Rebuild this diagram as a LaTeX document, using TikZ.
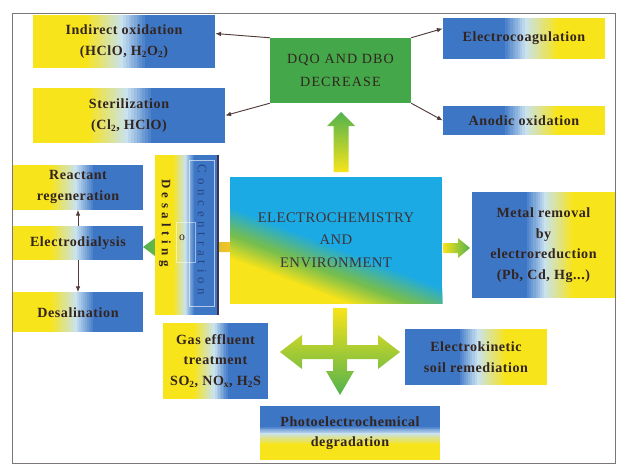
\documentclass[tikz,border=0pt]{standalone}
\usepackage{fontspec}
\setmainfont{Liberation Serif}
\usepackage{tikz}
\usetikzlibrary{positioning,arrows.meta,shadings,calc}

\definecolor{gyel}{RGB}{248,228,26}
\definecolor{glight}{RGB}{200,226,240}
\definecolor{gblu}{RGB}{62,118,198}
\definecolor{ecyan}{RGB}{28,170,228}
\definecolor{egreen}{RGB}{118,190,78}
\definecolor{dqogreen}{RGB}{68,168,74}
\definecolor{arrgreen}{RGB}{82,178,78}
\definecolor{arrorange}{RGB}{245,196,40}
\definecolor{txtdark}{RGB}{50,36,30}
\definecolor{envtxt}{RGB}{62,52,55}
\definecolor{linkcol}{RGB}{80,60,58}
\definecolor{framecol}{RGB}{125,118,120}
\definecolor{concblue}{RGB}{40,70,130}
\definecolor{edgedark}{RGB}{60,50,80}

\newcommand{\pxu}{0.03cm}

\begin{document}
\begin{tikzpicture}[
		x=0.03cm, y=-0.03cm,
		>={Latex[length=5pt,width=4pt]},
		every text node part/.style={align=center},
		box/.style={inner sep=0, text=txtdark,
			font=\fontsize{12}{17.5}\selectfont\bfseries\addfontfeature{LetterSpace=4}},
		gradbox/.style n args={4}{box, fill=gyel, path picture={
				\coordinate (ys) at (path picture bounding box.#1);
				\coordinate (bs) at (path picture bounding box.#2);
				\coordinate (yt) at (path picture bounding box.#3);
				\coordinate (bt) at (path picture bounding box.#4);
				\fill[gblu] ($(ys)!0.62!(bs)$) rectangle (bt);
				\foreach \k in {0,...,9} {
					\pgfmathtruncatemacro\mixp{\k*100/10}
					\fill[glight!\mixp!gyel] ($(ys)!0.28+0.02*\k!(bs)$) rectangle ($(yt)!0.302+0.02*\k!(bt)$);
				}
				\foreach \k in {0,...,9} {
					\pgfmathtruncatemacro\mixp{\k*100/9}
					\fill[gblu!\mixp!glight] ($(ys)!0.48+0.015*\k!(bs)$) rectangle ($(yt)!0.496+0.015*\k!(bt)$);
				}
		}},
		ytob/.style={gradbox={south west}{south east}{north west}{north east}},
		btoy/.style={gradbox={south east}{south west}{north east}{north west}},
		ytobv/.style={gradbox={south west}{north west}{south east}{north east}},
		envbox/.style={box, fill=ecyan, text=envtxt, path picture={
				\coordinate (pc) at (path picture bounding box.center);
				\foreach \t in {6,8,...,30} {
					\pgfmathtruncatemacro\mixp{(\t-6)*4}
					\fill[egreen!\mixp!ecyan] ($(pc)+\t*(-0.358,0.934)+(280,107)$) -- ($(pc)+\t*(-0.358,0.934)-(280,107)$) -- ++(-107,280) -- ++(560,214) -- cycle;
				}
				\foreach \t in {32,34,...,54} {
					\pgfmathtruncatemacro\mixp{(\t-32)*100/22}
					\fill[gyel!\mixp!egreen] ($(pc)+\t*(-0.358,0.934)+(280,107)$) -- ($(pc)+\t*(-0.358,0.934)-(280,107)$) -- ++(-107,280) -- ++(560,214) -- cycle;
				}
		}},
		link/.style={->, draw=linkcol, line width=0.8pt},
		vlabel/.style={rotate=-90, inner sep=0}
	]
	\useasboundingbox (0,0) rectangle (617,472);
	\draw[framecol, line width=0.8pt] (12,13) rectangle (615,463);
	
	\node(indir)[ytob, minimum width=182*\pxu, minimum height=53*\pxu] at (124,41.5) {Indirect oxidation\\(HClO, H\textsubscript{2}O\textsubscript{2})};
	\node(steril)[ytob, minimum width=192*\pxu, minimum height=55*\pxu] at (129,115.5) {Sterilization\\(Cl\textsubscript{2}, HClO)};
	\node(dqo)[box, fill=dqogreen, minimum width=141*\pxu, minimum height=65*\pxu,
		font=\fontsize{12}{19}\selectfont\addfontfeature{LetterSpace=8}] at (340.5,70.5) {DQO AND DBO\\DECREASE};
	\node(coag)[btoy, minimum width=162*\pxu, minimum height=41*\pxu] at (524,38.5) {Electrocoagulation};
	\node(anod)[btoy, minimum width=162*\pxu, minimum height=29*\pxu] at (524,120.5) {Anodic oxidation};
	
	\node(dialys)[ytob, minimum width=130*\pxu, minimum height=34*\pxu] at (78,243) {Electrodialysis};
	\node(react)[ytob, minimum width=130*\pxu, minimum height=45*\pxu, above=0.48cm of dialys] {Reactant\\regeneration};
	\node(desal)[ytob, minimum width=130*\pxu, minimum height=40*\pxu, below=0.96cm of dialys] {Desalination};
	
	\node(env)[envbox, minimum width=212*\pxu, minimum height=126*\pxu,
		font=\fontsize{12.5}{19}\selectfont\addfontfeature{LetterSpace=3}] at (336,240) {ELECTROCHEMISTRY\\AND\\ENVIRONMENT};
	\node(metal)[btoy, minimum width=143*\pxu, minimum height=106*\pxu] at (543.5,245) {Metal removal\\by\\electroreduction\\(Pb, Cd, Hg...)};
	\node(gas)[ytob, minimum width=105*\pxu, minimum height=76*\pxu] at (215.5,361) {Gas effluent\\treatment\\SO\textsubscript{2}, NO\textsubscript{x}, H\textsubscript{2}S};
	\node(kinetic)[btoy, minimum width=142*\pxu, minimum height=56*\pxu] at (476,357) {Electrokinetic\\soil remediation};
	\node(photo)[ytobv, minimum width=180*\pxu, minimum height=54*\pxu] at (350,433) {Photoelectrochemical\\degradation};
	
	\draw[link] (dqo.north west) -- (indir.5);
	\draw[link] (dqo.south west) -- (steril.east);
	\draw[link] (dqo.north east) -- (coag.173);
	\draw[link] (dqo.south east) -- (anod.west);
	\draw[link] (dialys) -- (react);
	\draw[link] (dialys) -- (desal);
	
	\coordinate(upbase) at (341,172);
	\coordinate(rbase) at (443,248);
	\coordinate(lbase) at (230,247);
	\coordinate(xc) at (340,352);
	
	\shade[top color=arrgreen, bottom color=gyel] (upbase) ++(-7.5,0) -- ++(0,-46) -- ++(-6.5,0) -- ++(14,-14) -- ++(14,14) -- ++(-6.5,0) -- ++(0,46) -- cycle;
	\shade[left color=gyel, right color=arrgreen] (rbase) ++(0,-5) -- ++(15,0) -- ++(0,-5) -- ++(12,10) -- ++(-12,10) -- ++(0,-5) -- ++(-15,0) -- cycle;
	\shade[left color=arrgreen, right color=arrorange] (lbase) ++(0,-5) -- ++(-75,0) -- ++(0,-4) -- ++(-12,9) -- ++(12,9) -- ++(0,-4) -- ++(75,0) -- cycle;
	\shade[top color=gyel, bottom color=arrgreen, shift={(xc)}] (-7,-44) -- (7,-44) -- (7,-7) -- (38,-7) -- (38,-17) -- (60,0) -- (38,17) -- (38,7) -- (7,7) -- (7,19) -- (14,19) -- (0,43) -- (-14,19) -- (-7,19) -- (-7,7) -- (-38,7) -- (-38,17) -- (-60,0) -- (-38,-17) -- (-38,-7) -- (-7,-7) -- cycle;
	
	\node(dcbox)[ytob, minimum width=63*\pxu, minimum height=160*\pxu] at (186.5,235) {};
	\draw[white, opacity=0.6, line width=0.4pt] (189,160) rectangle (214,306);
	\draw[white, opacity=0.5, line width=0.4pt] (176,222) rectangle (195,262);
	\draw[edgedark, line width=1.5pt] (dcbox.north east) -- (dcbox.south east);
	\node(desalt)[vlabel, text=txtdark, font=\fontsize{11}{13}\selectfont\bfseries\addfontfeature{LetterSpace=35}] at (165,223) {Desalting};
	\node(conc)[vlabel, text=concblue, font=\fontsize{11}{13}\selectfont\addfontfeature{LetterSpace=37}] at (202,230) {Concentration};
	\node(orlbl)[inner sep=0, text=txtdark, font=\fontsize{10}{12}\selectfont] at (182,238) {o};
\end{tikzpicture}
\end{document}
